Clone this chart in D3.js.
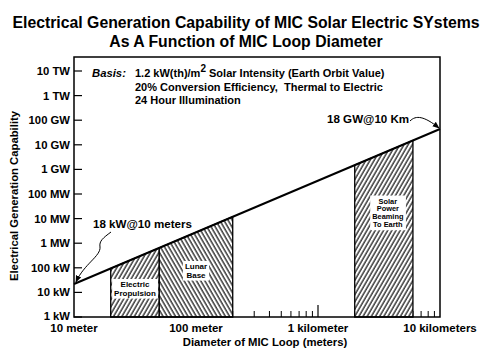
<!DOCTYPE html>
<html><head><meta charset="utf-8">
<script src="https://cdn.jsdelivr.net/npm/d3@7"></script>
<style>
body{margin:0;background:#fff}
text{font-family:"Liberation Sans",Arial,Helvetica,sans-serif;font-weight:bold;fill:#000}
</style>
</head><body>
<svg id="c" width="500" height="355"></svg>
<script>
// ---------- data ----------
const titleLines = ["Electrical Generation Capability of MIC Solar Electric SYstems", "As A Function of MIC Loop Diameter"];
const yTickValues = [1e3, 1e4, 1e5, 1e6, 1e7, 1e8, 1e9, 1e10, 1e11, 1e12, 1e13];
const yTickLabels = ["1 kW", "10 kW", "100 kW", "1 MW", "10 MW", "100 MW", "1 GW", "10 GW", "100 GW", "1 TW", "10 TW"];
const xTickValues = [10, 100, 1000, 10000];
const xTickLabels = ["10 meter", "100 meter", "1 kilometer", "10 kilometers"];
const xMinorTicks = [20, 30, 40, 50, 60, 70, 80, 90, 200, 300, 400, 500, 600, 700, 800, 900, 2000, 3000, 4000, 5000, 6000, 7000, 8000, 9000];
const lineDiameters = [10, 10000];
const linePower = [2.2e4, 4.4e10];
const regionLabels = [["Electric", "Propulsion"], ["Lunar", "Base"], ["Solar", "Power", "Beaming", "To Earth"]];
const regionStart = [20, 50, 2000];
const regionEnd = [50, 200, 6000];
const regionHatch = ["fwd", "back", "fwd"];
const basisLabel = "Basis:";
const basisLines = ["1.2 kW(th)/m", "20% Conversion Efficiency,  Thermal to Electric", "24 Hour Illumination"];
const annotLeft = "18 kW@10 meters";
const annotRight = "18 GW@10 Km";
const xAxisTitle = "Diameter of MIC Loop (meters)";
const yAxisTitle = "Electrical Generation Capability";

// ---------- layout ----------
const svg = d3.select("#c");
const left = 74, right = 440, bottom = 317, topTick = 71, frameTop = 57;
const x = d3.scaleLog().domain([10, 10000]).range([left, right]);
const y = d3.scaleLog().domain([1e3, 1e13]).range([bottom, topTick]);
const k = Math.log(linePower[1] / linePower[0]) / Math.log(lineDiameters[1] / lineDiameters[0]);
const powerAt = d => linePower[0] * Math.pow(d / lineDiameters[0], k);

// defs: hatches and arrowhead
const defs = svg.append("defs");
[["fwd", 30], ["back", -30]].forEach(([id, ang]) => {
  const p = defs.append("pattern").attr("id", "h-" + id)
    .attr("patternUnits", "userSpaceOnUse").attr("width", 3.6).attr("height", 10)
    .attr("patternTransform", `rotate(${ang})`);
  p.append("rect").attr("width", 3.6).attr("height", 10).attr("fill", "#fff");
  p.append("line").attr("x1", 1).attr("x2", 1).attr("y1", 0).attr("y2", 10)
    .attr("stroke", "#000").attr("stroke-width", 1.15);
});
defs.append("marker").attr("id", "arr").attr("viewBox", "0 0 10 10")
  .attr("refX", 9).attr("refY", 5).attr("markerWidth", 7).attr("markerHeight", 7)
  .attr("markerUnits", "userSpaceOnUse").attr("orient", "auto")
  .append("path").attr("d", "M0,1 L10,5 L0,9 Z").attr("fill", "#000");

// title
svg.selectAll("text.title").data(titleLines).join("text").attr("class", "title")
  .attr("x", 246).attr("y", (d, i) => 28 + i * 19).attr("text-anchor", "middle")
  .attr("font-size", 15.8).text(d => d);

// minor x ticks (drawn first; regions cover some)
svg.append("g").selectAll("line").data(xMinorTicks).join("line")
  .attr("x1", d => x(d)).attr("x2", d => x(d))
  .attr("y1", bottom).attr("y2", bottom - 6).attr("stroke", "#000").attr("stroke-width", 1);
svg.append("g").selectAll("line").data(xTickValues.slice(1, 3)).join("line")
  .attr("x1", d => x(d)).attr("x2", d => x(d))
  .attr("y1", bottom).attr("y2", bottom - 12).attr("stroke", "#000").attr("stroke-width", 1.2);

// regions
const rg = svg.append("g").selectAll("g").data(regionStart).join("g");
rg.append("path")
  .attr("d", (s, i) => {
    const e = regionEnd[i];
    return `M${x(s)},${y(1e3)}L${x(s)},${y(powerAt(s))}L${x(e)},${y(powerAt(e))}L${x(e)},${y(1e3)}Z`;
  })
  .attr("fill", (s, i) => `url(#h-${regionHatch[i]})`)
  .attr("stroke", "#000").attr("stroke-width", 1.3);

// region labels with white boxes
const labelTop = [281, 263, 198];
const labelSize = [8, 8, 7.4];
const labelLH = [8.6, 8.6, 7.9];
rg.each(function (s, i) {
  const g = d3.select(this);
  const cx = (x(s) + x(regionEnd[i])) / 2 + (i === 2 ? 4 : 0);
  const box = g.append("rect").attr("fill", "#fff");
  const t = g.append("g");
  regionLabels[i].forEach((ln, j) => {
    t.append("text").attr("x", cx).attr("y", labelTop[i] + labelSize[i] * 0.75 + j * labelLH[i])
      .attr("text-anchor", "middle").attr("font-size", labelSize[i]).text(ln);
  });
  const bb = t.node().getBBox();
  box.attr("x", bb.x - 2).attr("y", bb.y - 1).attr("width", bb.width + 4).attr("height", bb.height + 2);
});

// main line
svg.append("path").datum(lineDiameters)
  .attr("d", d3.line().x(d => x(d)).y(d => y(powerAt(d))))
  .attr("stroke", "#000").attr("stroke-width", 2).attr("fill", "none");

// frame
svg.append("rect").attr("x", left).attr("y", frameTop).attr("width", right - left).attr("height", bottom - frameTop)
  .attr("fill", "none").attr("stroke", "#000").attr("stroke-width", 1.5);

// y axis ticks and labels
const yg = svg.append("g");
yg.selectAll("line").data(yTickValues).join("line")
  .attr("x1", left).attr("x2", left + 8).attr("y1", d => y(d)).attr("y2", d => y(d))
  .attr("stroke", "#000").attr("stroke-width", 1.2);
yg.selectAll("text").data(yTickValues).join("text")
  .attr("x", left - 4).attr("y", (d, i) => y(d) + (i === 0 ? 2.5 : 4)).attr("text-anchor", "end")
  .attr("font-size", 11.3).text((d, i) => yTickLabels[i]);

// x labels
svg.append("g").selectAll("text").data(xTickValues).join("text")
  .attr("x", d => x(d)).attr("y", 332).attr("text-anchor", "middle")
  .attr("font-size", 11.5).text((d, i) => xTickLabels[i]);

svg.append("text").attr("x", 265).attr("y", 346).attr("text-anchor", "middle")
  .attr("font-size", 11.3).text(xAxisTitle);
svg.append("text").attr("transform", "translate(18,196) rotate(-90)").attr("text-anchor", "middle")
  .attr("font-size", 11.3).text(yAxisTitle);

// basis text
svg.append("text").attr("x", 92).attr("y", 77).attr("font-size", 11.3).attr("font-style", "italic").text(basisLabel);
const b1 = svg.append("text").attr("x", 135).attr("y", 77).attr("font-size", 11).text(basisLines[0]);
b1.append("tspan").attr("font-size", 10).attr("dy", -5).text("2");
b1.append("tspan").attr("dy", 5).text(" Solar Intensity (Earth Orbit Value)");
svg.selectAll("text.basis").data(basisLines.slice(1)).join("text").attr("class", "basis")
  .attr("x", 135).attr("y", (d, i) => 91 + i * 13).attr("font-size", 11).attr("xml:space", "preserve").text(d => d);

// annotations
const x0 = x(lineDiameters[0]), y0 = y(powerAt(lineDiameters[0]));
const x1 = x(lineDiameters[1]), y1 = y(powerAt(lineDiameters[1]));
svg.append("text").attr("x", 93).attr("y", 228).attr("font-size", 11.6).text(annotLeft);
svg.append("path")
  .attr("d", `M111,232 C103,238 99,241 100,247 C101,256 84,264 ${x0 + 2},${y0 - 2}`)
  .attr("fill", "none").attr("stroke", "#000").attr("stroke-width", 1).attr("marker-end", "url(#arr)");
svg.append("text").attr("x", 327).attr("y", 123).attr("font-size", 11.6).text(annotRight);
svg.append("path")
  .attr("d", `M410,121 C416,115 424,116 ${x1 - 1},${y1 - 1}`)
  .attr("fill", "none").attr("stroke", "#000").attr("stroke-width", 1).attr("marker-end", "url(#arr)");
</script>
</body></html>
